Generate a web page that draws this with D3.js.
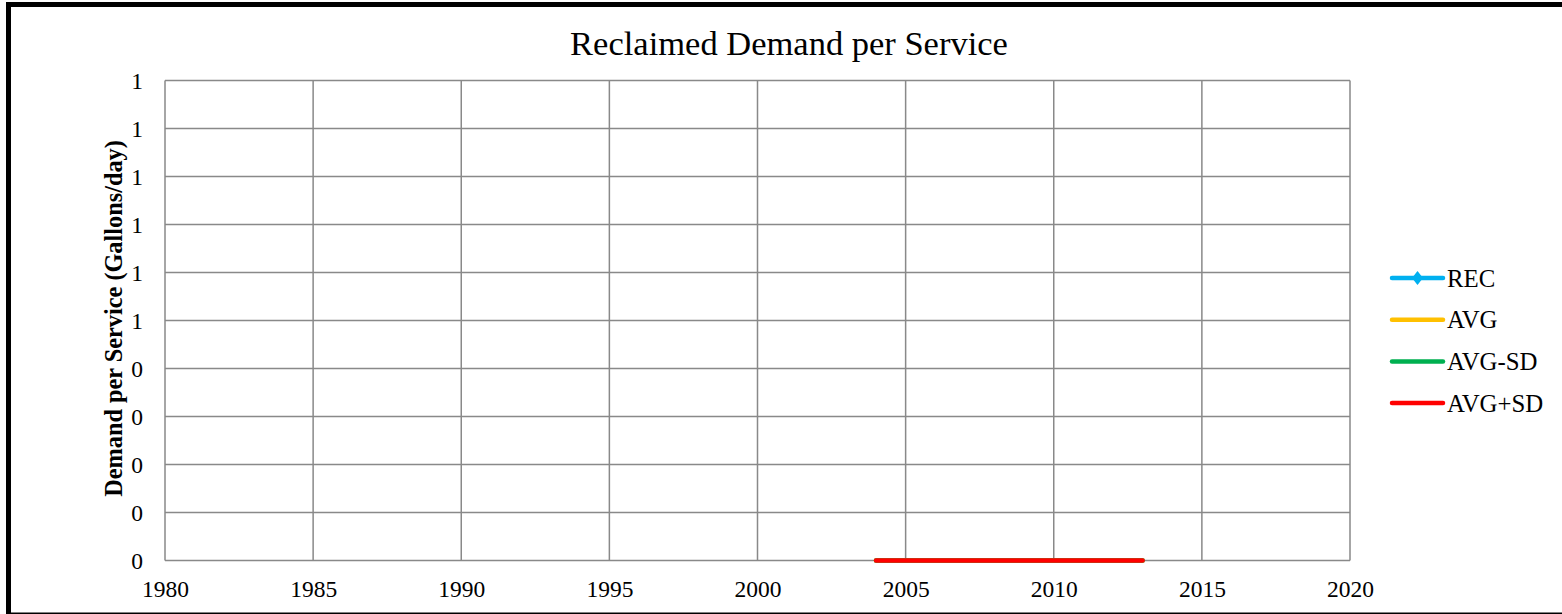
<!DOCTYPE html>
<html>
<head>
<meta charset="utf-8">
<script src="https://cdn.jsdelivr.net/npm/d3@7"></script>
<style>
  body { margin: 0; background: #fff; }
  text { font-family: "Liberation Serif", "Times New Roman", serif; fill: #000; }
</style>
</head>
<body>
<svg id="chart" width="1562" height="614"></svg>
<script>
// data
const years = [2004, 2005, 2006, 2007, 2008, 2009, 2010, 2011, 2012, 2013];
const rec = [null, null, null, null, null, null, null, null, null, null];
const avg = [0, 0, 0, 0, 0, 0, 0, 0, 0, 0];
const avgMinusSd = [0, 0, 0, 0, 0, 0, 0, 0, 0, 0];
const avgPlusSd = [0, 0, 0, 0, 0, 0, 0, 0, 0, 0];

const xTicks = [1980, 1985, 1990, 1995, 2000, 2005, 2010, 2015, 2020];
const yTicks = [0, 0.1, 0.2, 0.3, 0.4, 0.5, 0.6, 0.7, 0.8, 0.9, 1.0];

const seriesNames = ['REC', 'AVG', 'AVG-SD', 'AVG+SD'];
const seriesColors = ['#00B0F0', '#FFC000', '#00B050', '#FF0000'];
const seriesValues = [rec, avg, avgMinusSd, avgPlusSd];

const svg = d3.select('#chart');
const plot = {left: 165, top: 80.5, right: 1350, bottom: 560.5};
const grey = '#898989';

const x = d3.scaleLinear().domain([1980, 2020]).range([plot.left, plot.right]);
const y = d3.scaleLinear().domain([0, 1]).range([plot.bottom, plot.top]);

// excel-ish diamond marker, a bit taller than wide
const diamond = (w, h) => `M0,${-h}L${w},0L0,${h}L${-w},0Z`;

// outer frame (right side runs off the picture)
svg.append('rect')
    .attr('x', 8.5).attr('y', 4.5)
    .attr('width', 1600).attr('height', 610.5)
    .attr('fill', 'none').attr('stroke', '#000').attr('stroke-width', 5);

svg.append('text')
    .attr('x', 789).attr('y', 55)
    .attr('text-anchor', 'middle')
    .style('font-size', '34.5px')
    .text('Reclaimed Demand per Service');

// gridlines
svg.append('g')
    .selectAll('line')
    .data(yTicks)
    .enter().append('line')
    .attr('x1', plot.left).attr('x2', plot.right)
    .attr('y1', d => y(d)).attr('y2', d => y(d))
    .attr('stroke', grey).attr('stroke-width', 1.5);

svg.append('g')
    .selectAll('line')
    .data(xTicks)
    .enter().append('line')
    .attr('x1', d => x(d)).attr('x2', d => x(d))
    .attr('y1', plot.top).attr('y2', plot.bottom)
    .attr('stroke', grey).attr('stroke-width', 1.5);

// axes (labels only, Excel style)
const yAxis = svg.append('g')
    .attr('transform', `translate(${plot.left - 22},0)`)
    .call(d3.axisLeft(y).tickValues(yTicks).tickSize(0).tickFormat(d => String(Math.round(d))));
yAxis.select('.domain').remove();
yAxis.selectAll('text').style('font-size', '23.5px').attr('x', 0).attr('dy', '0.35em');

const xAxis = svg.append('g')
    .attr('transform', `translate(0,${plot.bottom})`)
    .call(d3.axisBottom(x).tickValues(xTicks).tickSize(0).tickFormat(d3.format('d')));
xAxis.select('.domain').remove();
xAxis.selectAll('text').style('font-size', '23.5px').attr('y', 36.5).attr('dy', 0);

svg.append('text')
    .attr('transform', `translate(122,${(plot.top + plot.bottom) / 2 - 2}) rotate(-90)`)
    .attr('text-anchor', 'middle')
    .style('font-size', '24.3px')
    .style('font-weight', 'bold')
    .text('Demand per Service (Gallons/day)');

// series
const line = d3.line()
    .defined(d => d.v !== null)
    .x(d => x(d.year))
    .y(d => y(d.v));

seriesValues.forEach((vals, i) => {
    const pts = years.map((yr, j) => ({year: yr, v: vals[j]}));
    svg.append('path')
        .datum(pts)
        .attr('d', line)
        .attr('fill', 'none')
        .attr('stroke', seriesColors[i])
        .attr('stroke-width', 4.5)
        .attr('stroke-linecap', 'round')
        .attr('stroke-linejoin', 'round');
    if (i === 0) {
        svg.append('g').selectAll('path')
            .data(pts.filter(d => d.v !== null))
            .enter().append('path')
            .attr('d', diamond(5.5, 7))
            .attr('transform', d => `translate(${x(d.year)},${y(d.v)})`)
            .attr('fill', seriesColors[0]);
    }
});

// legend
const legend = svg.append('g')
    .selectAll('g')
    .data(seriesNames)
    .enter().append('g')
    .attr('transform', (d, i) => `translate(1392,${278 + i * 41.7})`);

legend.append('line')
    .attr('x1', 0).attr('x2', 51)
    .attr('stroke', (d, i) => seriesColors[i])
    .attr('stroke-width', 4.5)
    .attr('stroke-linecap', 'round');

legend.filter((d, i) => i === 0)
    .append('path')
    .attr('d', diamond(5.5, 7))
    .attr('transform', 'translate(25.5,0)')
    .attr('fill', seriesColors[0]);

legend.append('text')
    .attr('x', 55)
    .attr('dy', '0.35em')
    .style('font-size', '24.8px')
    .text(d => d);
</script>
</body>
</html>
